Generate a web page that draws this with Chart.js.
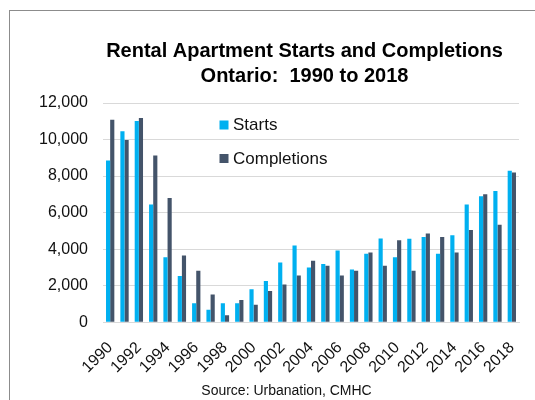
<!DOCTYPE html>
<html>
<head>
<meta charset="utf-8">
<script src="https://cdn.jsdelivr.net/npm/chart.js@4"></script>
<style>
  html, body { margin: 0; padding: 0; background: #fff; overflow: hidden; }
  #frame { position: absolute; left: 9px; top: 10px; width: 600px; height: 500px; border: 1px solid #8c8c8c; }
  #wrap { position: absolute; left: 0; top: 0; width: 535px; height: 400px; }
</style>
</head>
<body>
<div id="frame"></div>
<div id="wrap"><canvas id="rentalChart" width="535" height="400"></canvas></div>
<script>
const years = [
  "1990", "1991", "1992", "1993", "1994", "1995", "1996", "1997", "1998", "1999",
  "2000", "2001", "2002", "2003", "2004", "2005", "2006", "2007", "2008", "2009",
  "2010", "2011", "2012", "2013", "2014", "2015", "2016", "2017", "2018",
];
const starts = [
  8850, 10450, 11020, 6450, 3550, 2530, 1040, 680, 1040, 1040,
  1800, 2250, 3270, 4200, 3000, 3180, 3930, 2890, 3750, 4580,
  3550, 4570, 4670, 3750, 4760, 6440, 6890, 7180, 8290,
];
const completions = [
  11080, 9980, 11180, 9130, 6800, 3650, 2820, 1510, 380, 1220,
  950, 1710, 2070, 2550, 3360, 3090, 2550, 2820, 3820, 3090,
  4490, 2820, 4850, 4670, 3820, 5050, 7000, 5330, 8200,
];
const yTicks = [0, 2000, 4000, 6000, 8000, 10000, 12000];
const titleLines = ["Rental Apartment Starts and Completions", "Ontario:  1990 to 2018"];
const sourceText = "Source: Urbanation, CMHC";

const seriesColors = {
  starts: "#00b0f0", // bright blue
  completions: "#44546a", // slate
};

const fontFamily = "'Liberation Sans', Arial, sans-serif";

// legend sits inside the plot, Excel style
const insideLegend = {
  id: "insideLegend",
  afterDraw(chart) {
    const ctx = chart.ctx;
    const rows = [125, 158.5];
    ctx.save();
    ctx.font = "17px " + fontFamily;
    ctx.textBaseline = "middle";
    chart.data.datasets.forEach((ds, i) => {
      const y = rows[i];
      ctx.fillStyle = ds.backgroundColor;
      ctx.fillRect(219.5, y - 4.5, 9, 9);
      ctx.fillStyle = "#111";
      ctx.fillText(ds.label, 233, y + 0.5);
    });
    ctx.restore();
  },
};

// Excel centres the title and source a bit off the plot centre
const shiftHeadings = {
  id: "shiftHeadings",
  afterLayout(chart) {
    chart.boxes.forEach((b) => {
      if (!b.options || b.options.text === undefined) return;
      if (b.options.text === sourceText) {
        b.left = 54;
        b.right = 519;
      } else if (Array.isArray(b.options.text)) {
        b.left = 90;
        b.right = 519;
      }
    });
  },
};

const ctx = document.getElementById("rentalChart").getContext("2d");
new Chart(ctx, {
  type: "bar",
  data: {
    labels: years,
    datasets: [
      {
        label: "Starts",
        data: starts,
        backgroundColor: seriesColors.starts,
        categoryPercentage: 0.58,
        barPercentage: 1.0,
      },
      {
        label: "Completions",
        data: completions,
        backgroundColor: seriesColors.completions,
        categoryPercentage: 0.58,
        barPercentage: 1.0,
      },
    ],
  },
  options: {
    responsive: false,
    animation: false,
    layout: {
      padding: { left: 20, right: 16, top: 0, bottom: 0 },
    },
    plugins: {
      legend: { display: false },
      tooltip: { enabled: false },
      title: {
        display: true,
        text: titleLines,
        color: "#000",
        font: { family: fontFamily, size: 20, weight: "bold", lineHeight: 1.25 },
        padding: { top: 39, bottom: 14 },
      },
      subtitle: {
        display: true,
        position: "bottom",
        text: sourceText,
        color: "#111",
        font: { family: fontFamily, size: 14, lineHeight: 1.2 },
        padding: { top: 0, bottom: 0 },
      },
    },
    scales: {
      x: {
        grid: { display: false },
        border: { color: "#d9d9d9" },
        ticks: {
          autoSkip: false,
          maxRotation: 45,
          minRotation: 45,
          padding: 8,
          color: "#111",
          font: { family: fontFamily, size: 16 },
          callback: (val, i) => (i % 2 === 0 ? years[i] : ""),
        },
        afterFit: (scale) => {
          scale.height = 61;
        },
      },
      y: {
        min: 0,
        max: 12000,
        afterBuildTicks: (scale) => {
          scale.ticks = yTicks.map((v) => ({ value: v }));
        },
        grid: { color: "#d9d9d9", drawTicks: false },
        border: { display: false },
        ticks: {
          padding: 15,
          color: "#111",
          font: { family: fontFamily, size: 16 },
          callback: (v) => v.toLocaleString("en-US"),
        },
        afterFit: (scale) => {
          scale.width = 83;
        },
      },
    },
  },
  plugins: [insideLegend, shiftHeadings],
});
</script>
</body>
</html>
